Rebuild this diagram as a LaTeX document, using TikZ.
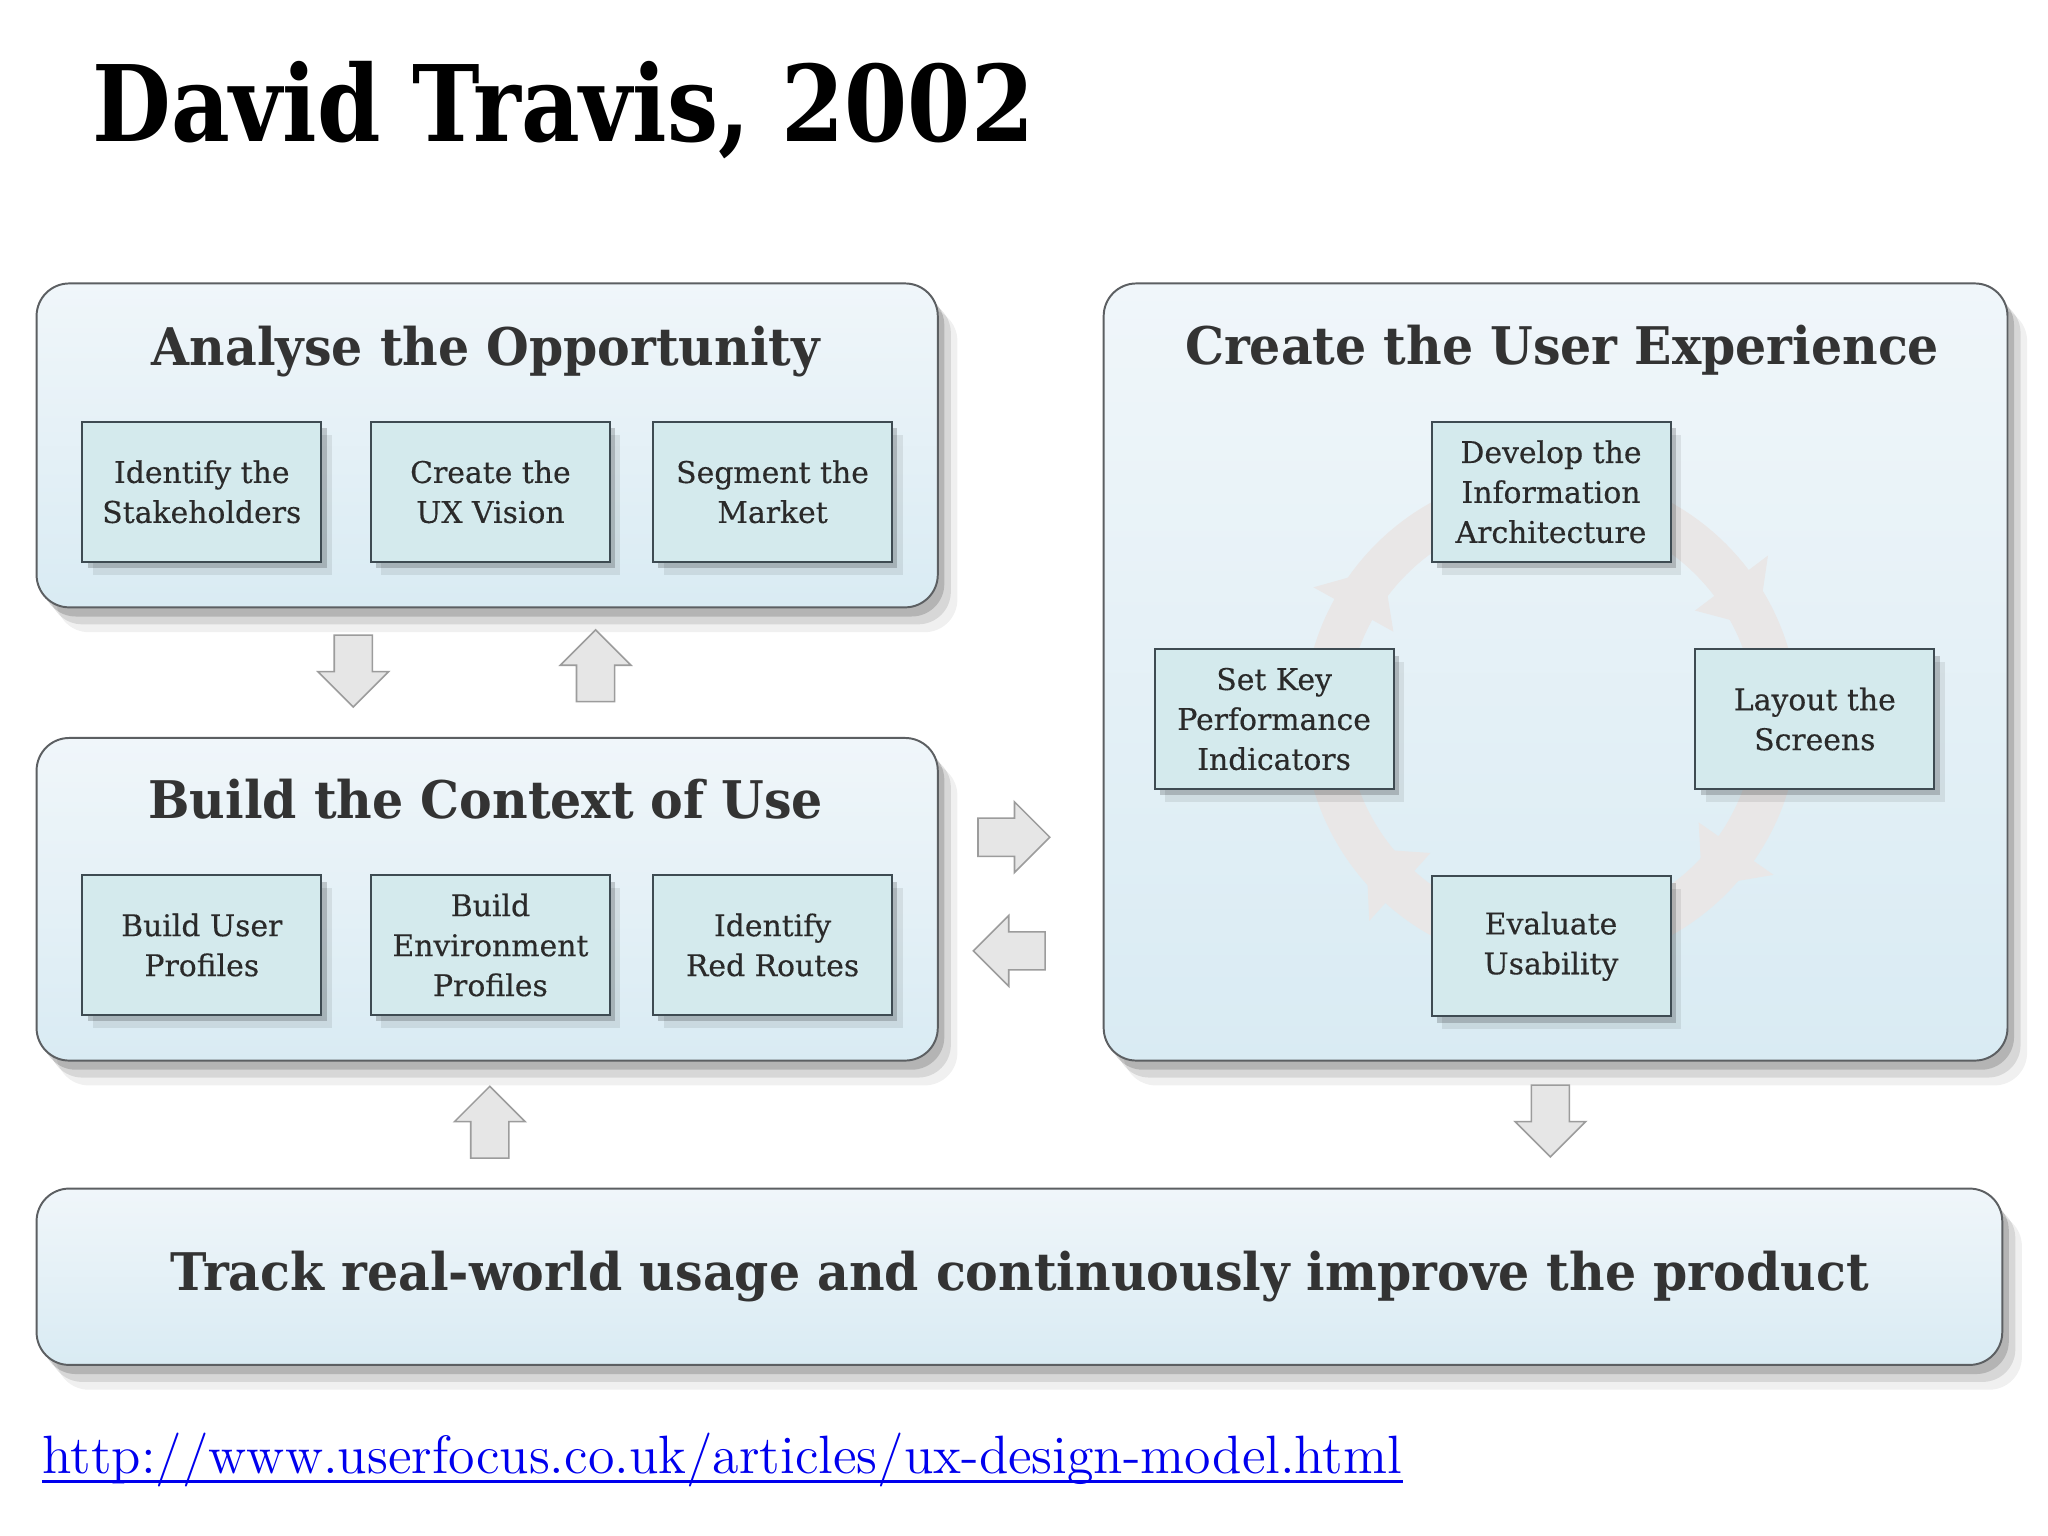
\documentclass[tikz,border=0pt]{standalone}
\usepackage{fontspec}
\usetikzlibrary{shadows,shapes.arrows}

\newfontfamily\slab[FakeBold=0.4]{DejaVu Serif}
\newfontfamily\slabhead[FakeStretch=0.945]{DejaVu Serif}
\newfontfamily\slabtitle[FakeStretch=0.86]{DejaVu Serif}

\definecolor{stagetop}{HTML}{F0F6FA}
\definecolor{stagebot}{HTML}{D9EBF3}
\definecolor{stageline}{HTML}{5C5F62}
\definecolor{taskfill}{HTML}{D4EAED}
\definecolor{taskline}{HTML}{3E4B52}
\definecolor{inkgray}{HTML}{2A2A2A}
\definecolor{headgray}{HTML}{333333}
\definecolor{ringgray}{HTML}{E9E7E7}
\definecolor{flowfill}{HTML}{E6E6E6}
\definecolor{flowline}{HTML}{9C9C9C}
\definecolor{urlblue}{HTML}{0000EE}

\begin{document}
\begin{tikzpicture}[x=0.1mm,y=-0.1mm,
stage/.style={draw=stageline,line width=0.15mm,rounded corners=2.5mm,top color=stagetop,bottom color=stagebot,
  drop shadow={shadow xshift=0.5mm,shadow yshift=-0.7mm,opacity=0.16,fill=black},
  drop shadow={shadow xshift=1.0mm,shadow yshift=-1.3mm,opacity=0.10,fill=black},
  drop shadow={shadow xshift=1.5mm,shadow yshift=-1.9mm,opacity=0.06,fill=black}},
task/.style={draw=taskline,line width=0.15mm,fill=taskfill,minimum width=18.3mm,minimum height=10.7mm,
  align=center,text=inkgray,font=\slab\fontsize{6.5}{8.7}\selectfont,
  drop shadow={shadow xshift=0.4mm,shadow yshift=-0.5mm,opacity=0.18,fill=black},
  drop shadow={shadow xshift=0.8mm,shadow yshift=-1.0mm,opacity=0.08,fill=black}},
heading/.style={anchor=base,text=headgray,font=\slabhead\bfseries\fontsize{11.3}{13}\selectfont},
flow/.style={single arrow,draw=flowline,fill=flowfill,line width=0.12mm,inner xsep=0pt,inner ysep=1.4mm,
  minimum height=5.5mm,single arrow head extend=1.25mm}]

\fill[white] (0,0) rectangle (1568,1176);
\useasboundingbox (0,0) rectangle (1568,1176);

% title
\node[anchor=base west,inner sep=0,font=\slabtitle\bfseries\fontsize{23}{26}\selectfont] (title) at (70,108) {David Travis, 2002};

% outer stages
\draw (373,341) node[stage,minimum width=69mm,minimum height=24.8mm] (analyse) {};
\draw (373,688.5) node[stage,minimum width=69mm,minimum height=24.7mm] (context) {};
\draw (1191,514.5) node[stage,minimum width=69.2mm,minimum height=59.5mm] (create) {};
\draw (780.5,977.5) node[stage,minimum width=150.5mm,minimum height=13.5mm,
  text=headgray,font=\slabhead\bfseries\fontsize{11.3}{13}\selectfont] (track)
  {Track real-world usage and continuously improve the product};

\node[heading] (analyseT) at (372,280) {Analyse the Opportunity};
\node[heading] (contextT) at (372,627) {Build the Context of Use};
\node[heading] (createT) at (1196,279) {Create the User Experience};

% tasks
\draw (154.5,376.5) node[task] (stake) {Identify the\\Stakeholders};
\draw (375.5,376.5) node[task] (vision) {Create the\\UX Vision};
\draw (591.5,376.5) node[task] (market) {Segment the\\Market};
\draw (154.5,723.5) node[task] (users) {Build User\\Profiles};
\draw (375.5,723.5) node[task] (environ) {Build\\Environment\\Profiles};
\draw (591.5,723.5) node[task] (routes) {Identify\\Red Routes};

% cycle
\begin{scope}[shift={(1187.5,550.5)}]
\draw[ringgray,line width=3.3mm] (0,0) circle[radius=17.3mm];
\foreach \h in {151,37,-35,-132}
  \fill[ringgray] (\h:13.8mm) -- (\h-13:17.3mm) -- (\h:20.8mm) -- cycle;
\end{scope}

\draw (1187.5,376.5) node[task] (arch) {Develop the\\Information\\Architecture};
\draw (975.5,550.5) node[task] (kpi) {Set Key\\Performance\\Indicators};
\draw (1389.5,550.5) node[task] (layout) {Layout the\\Screens};
\draw (1187.5,724.5) node[task] (evaluate) {Evaluate\\Usability};

% flows between stages
\node[flow,rotate=-90] (a2c) at (270.5,506.5) {};
\node[flow,rotate=90] (c2a) at (456,517) {};
\node[flow] (c2x) at (769,641) {};
\node[flow,rotate=180] (x2c) at (780,728) {};
\node[flow,rotate=90] (t2c) at (375,866.5) {};
\node[flow,rotate=-90] (x2t) at (1187,851) {};

% link
\node[anchor=base west,inner sep=0,text=urlblue,font=\fontsize{11.76}{13}\selectfont] (url) at (32,1128)
  {http://www.userfocus.co.uk/articles/ux-design-model.html};
\draw[urlblue,line width=0.25mm] ([yshift=-0.6mm]url.base west) -- ([yshift=-0.6mm]url.base east);

\end{tikzpicture}
\end{document}
